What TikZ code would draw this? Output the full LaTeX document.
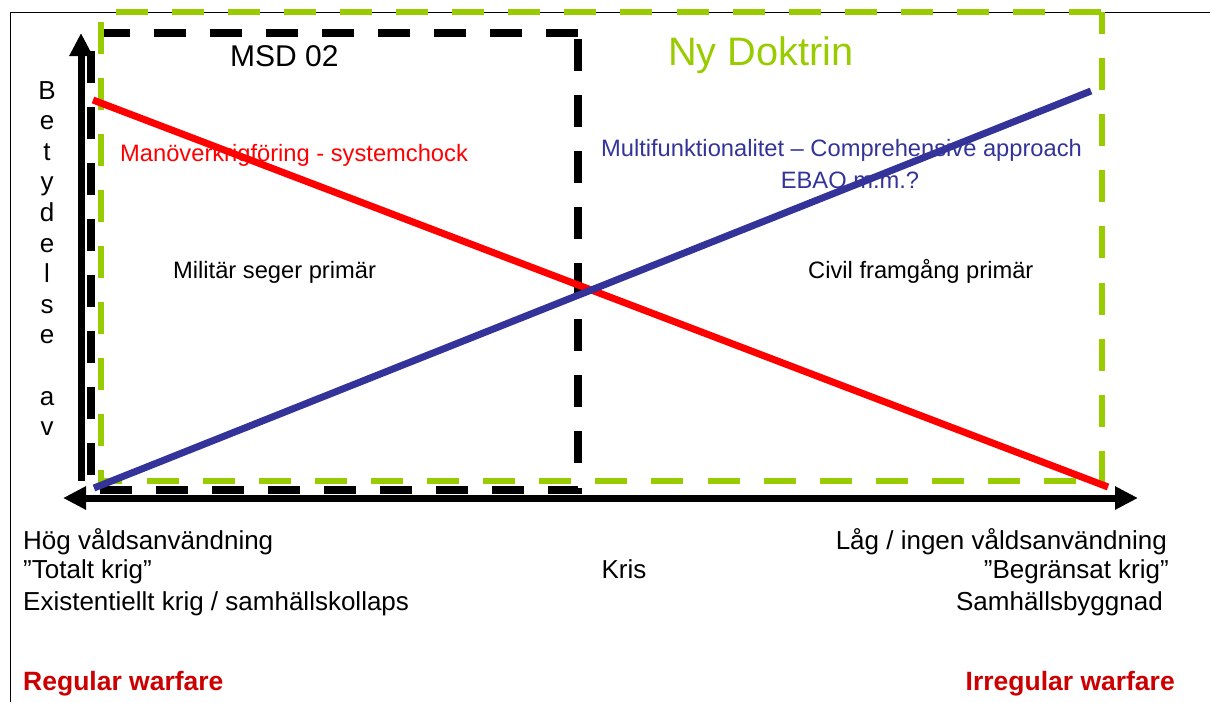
\documentclass[tikz,border=0pt]{standalone}
\usepackage{fontspec}
\setmainfont{Liberation Sans}
\usetikzlibrary{arrows.meta}
\definecolor{ndgreen}{HTML}{99CC00}
\definecolor{ndblue}{HTML}{333399}
\definecolor{ndred}{HTML}{FF0000}
\definecolor{darkred}{HTML}{CC0000}
\begin{document}
\begin{tikzpicture}[x=1pt,y=-1pt,
  frameline/.style={line width=1pt,black},
  axisline/.style={line width=7pt,black,>={Triangle[length=23pt,width=22pt]}},
  msdbox/.style={line width=7.5pt,black,dash pattern=on 32pt off 24.06pt,dash phase=50pt},
  nybox/.style={line width=6.5pt,ndgreen,dash pattern=on 32pt off 24.1pt,dash phase=10pt},
  redline/.style={line width=7pt,ndred},
  blueline/.style={line width=7pt,ndblue},
  lab/.style={inner sep=0pt,font=\fontsize{23.7}{28}\selectfont},
  bot/.style={inner sep=0pt,font=\fontsize{26}{30}\selectfont},
  warf/.style={inner sep=0pt,text=darkred,font=\fontsize{26.5}{31}\selectfont\bfseries},
  vlet/.style={inner sep=0pt,anchor=base,font=\fontsize{26}{30}\selectfont}
]
\useasboundingbox (0,0) rectangle (1210,702);
% outer frame
\draw[frameline] (10,702) -- (10,12) -- (1210,12);
% boxes
\draw[msdbox] (578,33) -- (578,490) -- (91,490) -- (91,33) -- cycle;
\draw[nybox] (1102,12) -- (1102,481) -- (101,481) -- (101,12) -- cycle;
% lines
\coordinate (rs) at (93,100);
\coordinate (re) at (1108,487);
\coordinate (bs) at (94,488);
\coordinate (be) at (1091,91);
\draw[redline] (rs) -- (re);
\draw[blueline] (bs) -- (be);
% axes
\coordinate (ybot) at (81,481);
\coordinate (ytop) at (81,33);
\coordinate (xl) at (63,498);
\coordinate (xr) at (1138,498);
\draw[axisline,->] (ybot) -- (ytop);
\draw[axisline,<->] (xl) -- (xr);
% vertical label
\foreach \l/\k in {B/0,e/1,t/2,y/3,d/4,e/5,l/6,s/7,e/8,a/10,v/11}
  \node[vlet] (v\k) at (47,{99+30.6*\k}) {\l};
% titles
\node[inner sep=0pt,anchor=base west,font=\fontsize{30}{35}\selectfont] (msd) at (230,66.7) {MSD 02};
\node[inner sep=0pt,anchor=base west,text=ndgreen,font=\fontsize{39.7}{46}\selectfont] (ny) at (668,65) {Ny Doktrin};
% chart labels
\node[lab,anchor=base west,text=ndred] (man) at (120,161.7) {Manöverkrigföring - systemchock};
\node[lab,anchor=base,text=ndblue] (multi) at (841.5,156.7) {Multifunktionalitet – Comprehensive approach};
\node[lab,anchor=base,text=ndblue] (ebao) at (850,188) {EBAO m.m.?};
\node[lab,anchor=base west] (mil) at (173,278.3) {Militär seger primär};
\node[lab,anchor=base west] (civ) at (808,278.3) {Civil framgång primär};
% bottom labels
\node[bot,anchor=base west] (hog) at (23,549.3) {Hög våldsanvändning};
\node[bot,anchor=base west] (tot) at (23,578.3) {”Totalt krig”};
\node[bot,anchor=base west] (exi) at (23,610) {Existentiellt krig / samhällskollaps};
\node[bot,anchor=base] (kris) at (624,578.3) {Kris};
\node[bot,anchor=base east] (lag) at (1167,549.3) {Låg / ingen våldsanvändning};
\node[bot,anchor=base east] (beg) at (1169,578.3) {”Begränsat krig”};
\node[bot,anchor=base east] (sam) at (1163,610) {Samhällsbyggnad};
\node[warf,anchor=base west] (reg) at (23,690) {Regular warfare};
\node[warf,anchor=base east] (irr) at (1175,690) {Irregular warfare};
\end{tikzpicture}
\end{document}
